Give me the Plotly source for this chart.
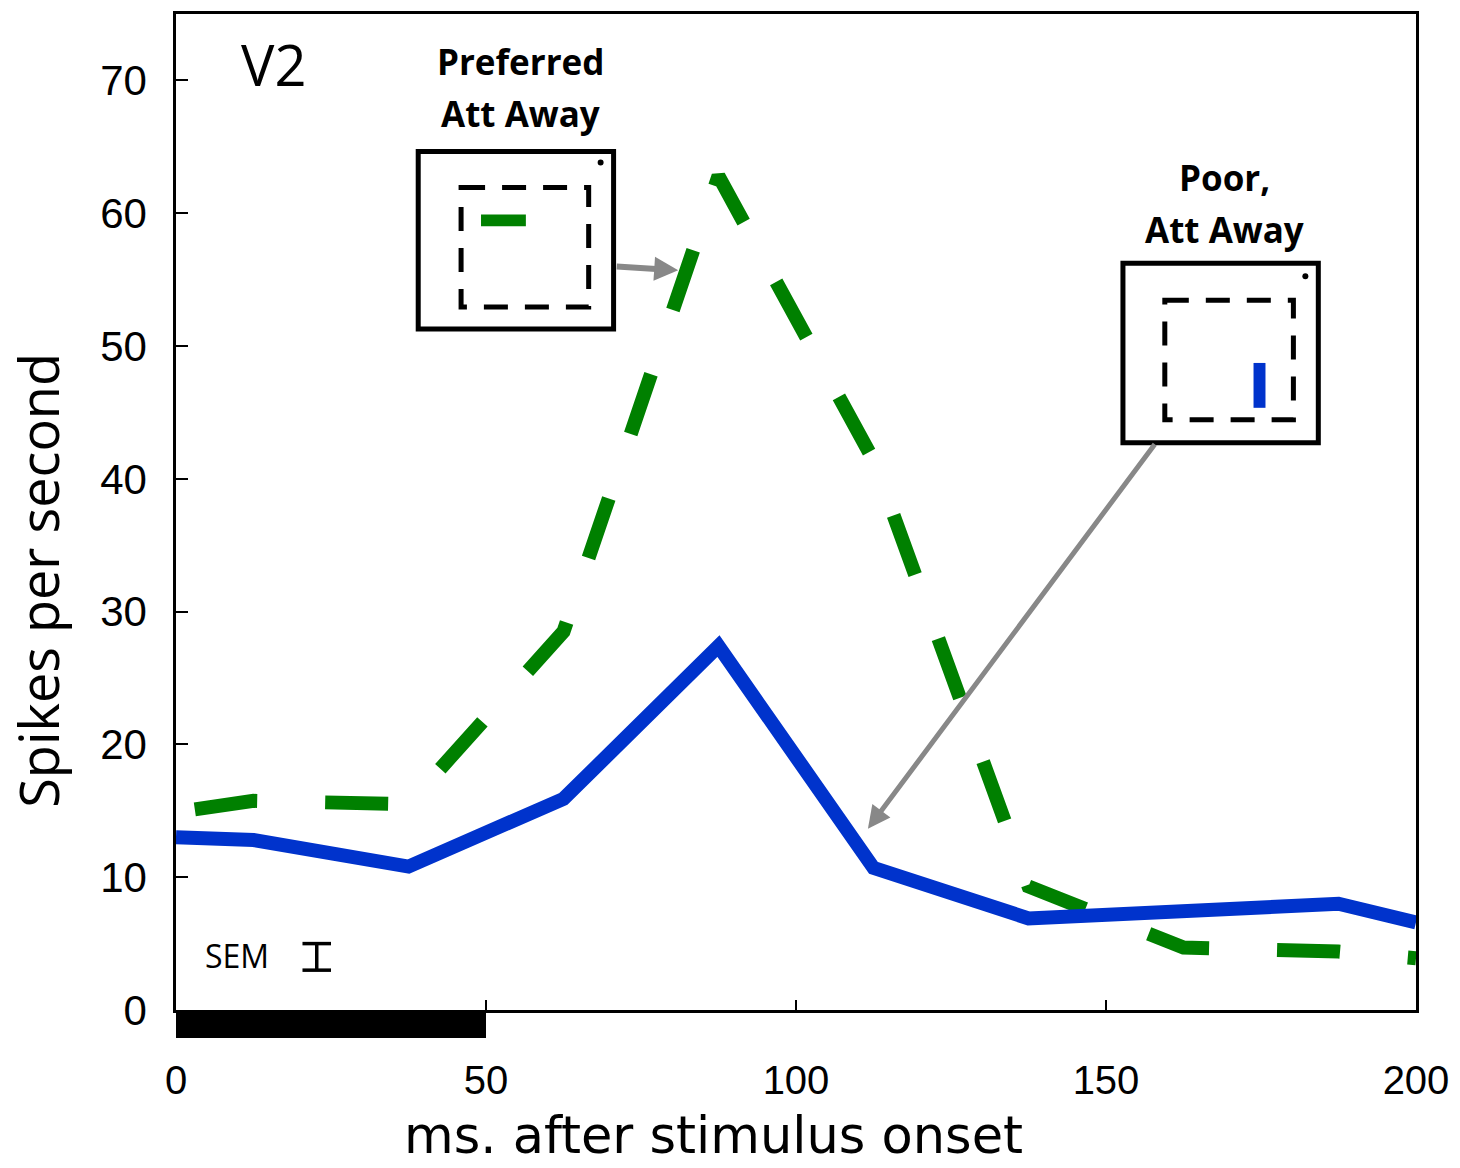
import plotly.graph_objects as go

# ---- data ----
time_ms = [0, 12.5, 37.5, 62.5, 87.5, 112.5, 137.5, 162.5, 187.5, 200]
poor_att_away = [13.0, 12.8, 10.8, 15.9, 27.4, 10.7, 6.9, 7.5, 8.0, 6.6]
preferred_att_away = [14.9, 15.75, 15.5, 28.5, 62.8, 41.4, 9.3, 4.7, 4.4, 3.9]

x_ticks = [0, 50, 100, 150, 200]
y_ticks = [0, 10, 20, 30, 40, 50, 60, 70]

stim_on, stim_off = 0, 50          # stimulus bar (ms)
sem_x, sem_lo, sem_hi = 22.7, 3.0, 5.0   # SEM scale bar (spikes/s)

BLUE = "#0033CC"
GREEN = "#008000"
GRAY = "#888888"
TXT_FONT = "Open Sans"
NUM_FONT = "Liberation Sans"

# plot-area pixel geometry used for positioning decorations
L, R, T, B = 176, 1420, 11, 1010


def px(x):
    return (x - L) / (R - L)


def py(y):
    return (B - y) / (B - T)


fig = go.Figure()
fig.add_trace(go.Scatter(
    x=time_ms, y=preferred_att_away, mode="lines",
    line=dict(color=GREEN, width=14, dash="0px,19px,63px,49px"),
    name="Preferred, Att Away", showlegend=False))
fig.add_trace(go.Scatter(
    x=time_ms, y=poor_att_away, mode="lines",
    line=dict(color=BLUE, width=14),
    name="Poor, Att Away", showlegend=False))

shapes = []
# stimulus bar under the x axis
shapes.append(dict(type="rect", xref="x", yref="paper", x0=stim_on, x1=stim_off,
                   y0=py(1038), y1=py(1011), fillcolor="black", line=dict(width=0),
                   layer="above"))
# SEM scale bar
cap = 2.3
shapes += [
    dict(type="line", xref="x", yref="y", x0=sem_x, x1=sem_x, y0=sem_lo, y1=sem_hi,
         line=dict(color="black", width=3.5)),
    dict(type="line", xref="x", yref="y", x0=sem_x - cap, x1=sem_x + cap, y0=sem_lo, y1=sem_lo,
         line=dict(color="black", width=3.5)),
    dict(type="line", xref="x", yref="y", x0=sem_x - cap, x1=sem_x + cap, y0=sem_hi, y1=sem_hi,
         line=dict(color="black", width=3.5)),
]


def inset(outer, inner, dot, bar, bar_color):
    ox0, oy0, ox1, oy1 = outer
    ix0, iy0, ix1, iy1 = inner
    out = [
        dict(type="rect", xref="paper", yref="paper", x0=px(ox0), x1=px(ox1),
             y0=py(oy1), y1=py(oy0), line=dict(color="black", width=5),
             fillcolor="white", layer="above"),
        dict(type="rect", xref="paper", yref="paper", x0=px(ix0), x1=px(ix1),
             y0=py(iy0), y1=py(iy1), line=dict(color="black", width=5, dash="24px,17px"),
             layer="above"),
        dict(type="circle", xref="paper", yref="paper", x0=px(dot[0] - 3), x1=px(dot[0] + 3),
             y0=py(dot[1] + 3), y1=py(dot[1] - 3), fillcolor="black",
             line=dict(width=0), layer="above"),
        dict(type="rect", xref="paper", yref="paper", x0=px(bar[0]), x1=px(bar[2]),
             y0=py(bar[3]), y1=py(bar[1]), fillcolor=bar_color, line=dict(width=0),
             layer="above"),
    ]
    return out


shapes += inset((419, 149, 615, 327), (462, 185, 590, 305), (602, 160),
                (482, 212, 527, 224), GREEN)
shapes += inset((1126, 261, 1322, 441), (1168, 298, 1297, 418), (1309, 274),
                (1257, 361, 1269, 406), BLUE)


def label(text, x, y, size, bold=False, angle=0, family=TXT_FONT):
    return dict(text=f"<b>{text}</b>" if bold else text, xref="paper", yref="paper",
                x=px(x), y=py(y), showarrow=False, textangle=angle,
                font=dict(family=family, size=size, color="black"),
                xanchor="center", yanchor="middle", borderpad=0)


annotations = [
    label("V2", 274, 61, 56),
    label("Preferred", 522, 59, 35, bold=True),
    label("Att Away", 522, 111, 35, bold=True),
    label("Poor,", 1228, 175, 35, bold=True),
    label("Att Away", 1228, 227, 35, bold=True),
    label("SEM", 237, 955, 32),
    # axis titles
    label("ms. after stimulus onset", 715, 1136, 51, family="DejaVu Sans"),
    label("Spikes per second", 38, 579, 54, angle=-90),
    # arrows from insets to curves
    dict(text="", xref="x", yref="y", x=81.0, y=55.7, ax=-63, ay=-4, axref="pixel",
         ayref="pixel", showarrow=True, arrowhead=2, arrowsize=0.8, arrowwidth=6,
         arrowcolor=GRAY),
    dict(text="", xref="x", yref="y", x=111.6, y=13.65, ax=288, ay=-386, axref="pixel",
         ayref="pixel", showarrow=True, arrowhead=2, arrowsize=0.9, arrowwidth=5,
         arrowcolor=GRAY),
]

fig.update_layout(
    width=1460, height=1168,
    margin=dict(l=L, r=1460 - R, t=T, b=1168 - B),
    paper_bgcolor="white", plot_bgcolor="white",
    showlegend=False,
    shapes=shapes,
    annotations=annotations,
    xaxis=dict(range=[0, 200], tickvals=x_ticks, ticktext=[str(v) for v in x_ticks],
               ticks="inside", ticklen=10, tickwidth=2, tickcolor="black",
               showline=True, linewidth=2.5, linecolor="black", mirror=True,
               showgrid=False, zeroline=False, ticklabelstandoff=33,
               tickfont=dict(family=NUM_FONT, size=40, color="black")),
    yaxis=dict(range=[0, 75], tickvals=y_ticks, ticktext=[str(v) for v in y_ticks],
               ticks="inside", ticklen=12, tickwidth=2, tickcolor="black",
               showline=True, linewidth=2.5, linecolor="black", mirror=True,
               showgrid=False, zeroline=False, ticklabelstandoff=18,
               tickfont=dict(family=NUM_FONT, size=42, color="black")),
)

fig.write_html("out.html")
